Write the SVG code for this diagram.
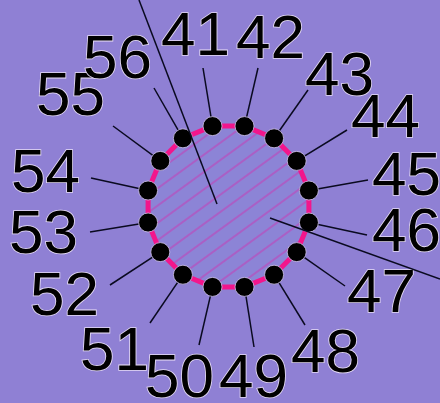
<svg xmlns="http://www.w3.org/2000/svg" width="440" height="403" viewBox="0 0 440 403">
<style>
.lbl{font-family:"Liberation Sans",Arial,sans-serif;font-size:62px;fill:#000;stroke:#e6dcf5;stroke-width:1.6px;paint-order:stroke;}
.dot{fill:#000;stroke:#cfc3ea;stroke-width:0.8;}
.lead{stroke:#0a0a20;stroke-width:1.5;fill:none;}
.ring{fill:none;stroke:#f2168c;stroke-width:5;stroke-linejoin:round;}
</style>
<defs>
<pattern id="hatch" patternUnits="userSpaceOnUse" width="14" height="14" patternTransform="rotate(-36)">
<line x1="0" y1="7" x2="14" y2="7" stroke="#c83ab4" stroke-width="1"/>
</pattern>
</defs>
<rect x="0" y="0" width="440" height="403" fill="#8f80d4"/>
<g id="ring">
<polygon points="212.5,126.1 244.5,126.1 274.1,138.3 296.7,160.9 308.9,190.5 308.9,222.5 296.7,252.1 274.1,274.7 244.5,286.9 212.5,286.9 182.9,274.7 160.3,252.1 148.1,222.5 148.1,190.5 160.3,160.9 182.9,138.3" fill="#8c84d6"/>
<polygon points="212.5,126.1 244.5,126.1 274.1,138.3 296.7,160.9 308.9,190.5 308.9,222.5 296.7,252.1 274.1,274.7 244.5,286.9 212.5,286.9 182.9,274.7 160.3,252.1 148.1,222.5 148.1,190.5 160.3,160.9 182.9,138.3" fill="url(#hatch)"/>
<polygon class="ring" points="212.5,126.1 244.5,126.1 274.1,138.3 296.7,160.9 308.9,190.5 308.9,222.5 296.7,252.1 274.1,274.7 244.5,286.9 212.5,286.9 182.9,274.7 160.3,252.1 148.1,222.5 148.1,190.5 160.3,160.9 182.9,138.3"/>
</g>
<g id="connectors">
<line class="lead" x1="203" y1="68" x2="212.5" y2="126.1"/>
<line class="lead" x1="258" y1="68" x2="244.5" y2="126.1"/>
<line class="lead" x1="308" y1="90" x2="274.1" y2="138.3"/>
<line class="lead" x1="347" y1="130" x2="296.7" y2="160.9"/>
<line class="lead" x1="368" y1="180" x2="308.9" y2="190.5"/>
<line class="lead" x1="367" y1="235" x2="308.9" y2="222.5"/>
<line class="lead" x1="345" y1="286" x2="296.7" y2="252.1"/>
<line class="lead" x1="305" y1="325" x2="274.1" y2="274.7"/>
<line class="lead" x1="254" y1="347" x2="244.5" y2="286.9"/>
<line class="lead" x1="199" y1="345" x2="212.5" y2="286.9"/>
<line class="lead" x1="150" y1="323" x2="182.9" y2="274.7"/>
<line class="lead" x1="110" y1="285" x2="160.3" y2="252.1"/>
<line class="lead" x1="90" y1="232" x2="148.1" y2="222.5"/>
<line class="lead" x1="91" y1="178" x2="148.1" y2="190.5"/>
<line class="lead" x1="113" y1="126" x2="160.3" y2="160.9"/>
<line class="lead" x1="154" y1="88" x2="182.9" y2="138.3"/>
</g>
<g id="n41"><circle class="dot" cx="212.5" cy="126.1" r="9.5"/><text class="lbl" x="161" y="55">41</text></g>
<g id="n42"><circle class="dot" cx="244.5" cy="126.1" r="9.5"/><text class="lbl" x="236" y="58">42</text></g>
<g id="n43"><circle class="dot" cx="274.1" cy="138.3" r="9.5"/><text class="lbl" x="305" y="95">43</text></g>
<g id="n44"><circle class="dot" cx="296.7" cy="160.9" r="9.5"/><text class="lbl" x="351" y="137">44</text></g>
<g id="n45"><circle class="dot" cx="308.9" cy="190.5" r="9.5"/><text class="lbl" x="372" y="195">45</text></g>
<g id="n46"><circle class="dot" cx="308.9" cy="222.5" r="9.5"/><text class="lbl" x="372" y="251">46</text></g>
<g id="n47"><circle class="dot" cx="296.7" cy="252.1" r="9.5"/><text class="lbl" x="347" y="312">47</text></g>
<g id="n48"><circle class="dot" cx="274.1" cy="274.7" r="9.5"/><text class="lbl" x="291" y="372">48</text></g>
<g id="n49"><circle class="dot" cx="244.5" cy="286.9" r="9.5"/><text class="lbl" x="219" y="397">49</text></g>
<g id="n50"><circle class="dot" cx="212.5" cy="286.9" r="9.5"/><text class="lbl" x="145" y="397">50</text></g>
<g id="n51"><circle class="dot" cx="182.9" cy="274.7" r="9.5"/><text class="lbl" x="80" y="370">51</text></g>
<g id="n52"><circle class="dot" cx="160.3" cy="252.1" r="9.5"/><text class="lbl" x="30" y="315">52</text></g>
<g id="n53"><circle class="dot" cx="148.1" cy="222.5" r="9.5"/><text class="lbl" x="9" y="253">53</text></g>
<g id="n54"><circle class="dot" cx="148.1" cy="190.5" r="9.5"/><text class="lbl" x="11" y="192">54</text></g>
<g id="n55"><circle class="dot" cx="160.3" cy="160.9" r="9.5"/><text class="lbl" x="36" y="115">55</text></g>
<g id="n56"><circle class="dot" cx="182.9" cy="138.3" r="9.5"/><text class="lbl" x="83" y="78">56</text></g>
<g id="pointers">
<line class="lead" x1="139" y1="0" x2="217" y2="204"/>
<line class="lead" x1="270" y1="218" x2="440" y2="279"/>
</g>
</svg>
